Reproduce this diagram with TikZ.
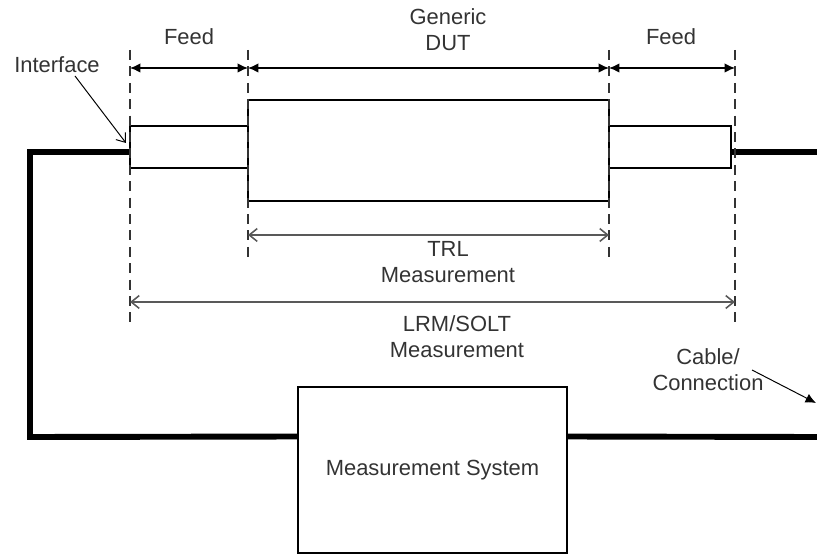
\documentclass[tikz,border=0pt]{standalone}
\usepackage{fontspec}
\setmainfont{Liberation Sans}
\usetikzlibrary{arrows.meta,calc}

\begin{document}
\begin{tikzpicture}[x=0.025cm, y=-0.025cm,
    >={Latex[length=0.26cm,width=0.24cm]},
    every node/.style={font=\fontsize{15.6}{18.6}\selectfont, text=black!80, align=center},
    part/.style={draw, line width=1.3pt, inner sep=0pt},
    cable/.style={line width=4.2pt},
    guide/.style={dash pattern=on 0.25cm off 0.16cm, line width=0.9pt, black!80},
    span/.style={line width=1.1pt, <->},
    calib/.style={line width=1.1pt, black!65, {Straight Barb[length=0.2cm,width=0.32cm]}-{Straight Barb[length=0.2cm,width=0.32cm]}},
    pointer/.style={line width=0.7pt}]

    \useasboundingbox (0,0) rectangle (817,556);

    % Feeds and the device between them
    \node[part, minimum width=2.95cm, minimum height=1.05cm] (feedL) at (189,147) {};
    \node[part, minimum width=9.025cm, minimum height=2.525cm] (dut) at (428.5,150.5) {};
    \node[part, minimum width=3.05cm, minimum height=1.05cm] (feedR) at (670,147) {};

    % Measurement system
    \node[part, line width=1pt, minimum width=6.725cm, minimum height=4.15cm] (ms) at (432.5,470) {Measurement System};

    % Ports and free cable ends
    \coordinate (portL) at (130,152);
    \coordinate (portR) at (731,152);
    \coordinate (msL) at ($(ms.north west)!0.3!(ms.south west)$);
    \coordinate (msR) at ($(ms.north east)!0.3!(ms.south east)$);
    \coordinate (endR) at (817,152);
    \coordinate (endMS) at (817,437);

    % Cables
    \draw[cable] (portL) -| (30,437) -- (msL);
    \draw[cable] (portR) -- (endR);
    \draw[cable] (msR) -- (endMS);

    % Reference planes
    \draw[guide] (130,50) -- (130,322);
    \draw[guide] (248,50) -- (248,257);
    \draw[guide] (609,50) -- (609,262);
    \draw[guide] (735,50) -- (735,324);

    % Feed / DUT extents
    \draw[span] (130,68) -- (248,68);
    \draw[span] (248,68) -- (609,68);
    \draw[span] (609,68) -- (735,68);
    \node (feedLlbl) at (189,37) {Feed};
    \node (dutlbl) at (448,30) {Generic\\DUT};
    \node (feedRlbl) at (671,37) {Feed};

    % Calibration planes
    \draw[calib] (248,235) -- (609,235);
    \node (trl) at (448,262) {TRL\\Measurement};
    \draw[calib] (130,302) -- (735,302);
    \node (lrm) at (457,337) {LRM/SOLT\\Measurement};

    % Interface and cable callouts
    \node (iface) at (57,65) {Interface};
    \draw[pointer, ->, >={Straight Barb[length=0.2cm,width=0.3cm]}] (75,76) -- (126,143);
    \node (cbl) at (708,370) {Cable/\\Connection};
    \draw[pointer, ->] (752,370) -- (816,403);

\end{tikzpicture}
\end{document}
